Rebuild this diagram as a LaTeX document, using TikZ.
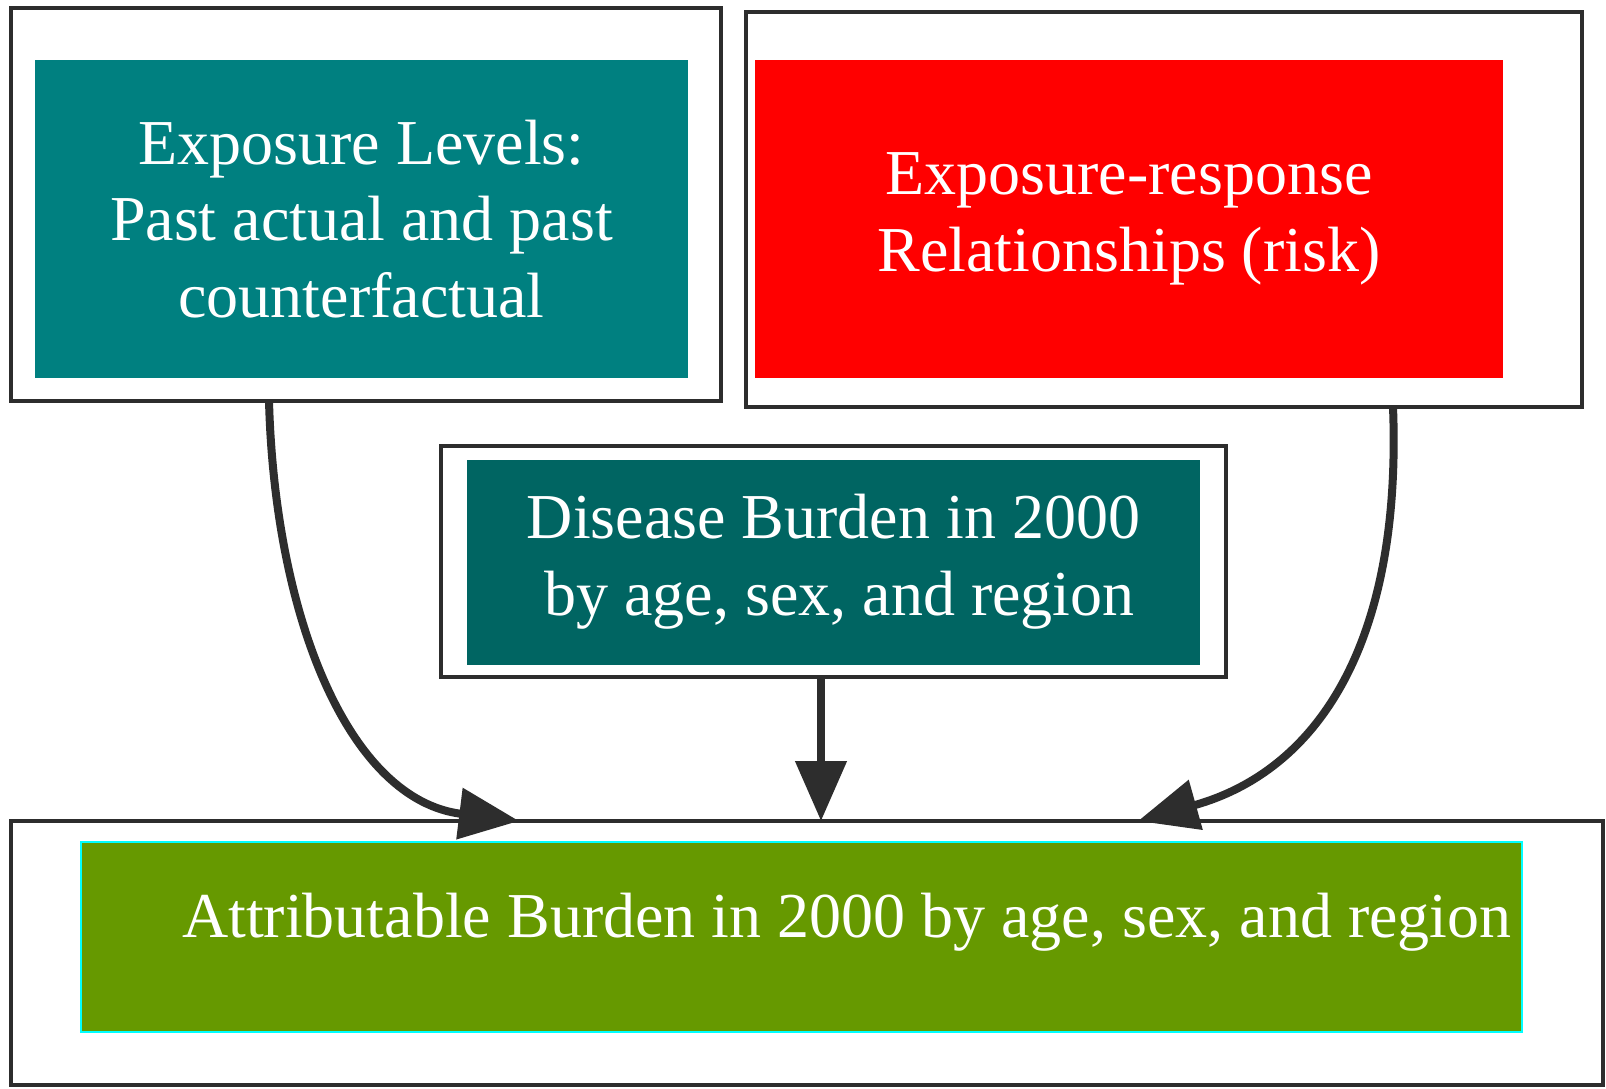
\documentclass[tikz,border=0pt]{standalone}
\usepackage{fontspec}
\setmainfont{Liberation Serif}
\usetikzlibrary{arrows.meta}
\definecolor{tealA}{RGB}{0,128,128}
\definecolor{tealB}{RGB}{0,101,98}
\definecolor{redA}{RGB}{255,0,0}
\definecolor{greenA}{RGB}{102,153,0}
\definecolor{lineC}{RGB}{45,45,45}
\definecolor{cyanA}{RGB}{0,255,255}
\begin{document}
\begin{tikzpicture}[x=0.5pt,y=-0.5pt,
  outerbox/.style={draw=lineC, line width=1.9pt, fill=white, inner sep=0pt, outer sep=0pt},
  colbox/.style={inner sep=0pt, outer sep=0pt, text=white, align=center,
                 font=\fontsize{32}{38.4}\selectfont},
  conn/.style={draw=lineC, line width=4pt, -{Triangle[length=30pt,width=25pt]}}]
\useasboundingbox[fill=white] (0,0) rectangle (1606,1088);
% outer frames
\node[outerbox, minimum width=355pt, minimum height=196.5pt] (o1) at (366,204.5) {};
\node[outerbox, minimum width=418pt, minimum height=197.5pt] (o2) at (1164,209.5) {};
\node[outerbox, minimum width=392.5pt, minimum height=115.5pt] (o3) at (833.5,561.5) {};
\node[outerbox, minimum width=796pt, minimum height=132pt] (o4) at (807,953) {};
% coloured boxes
\node[colbox, fill=tealA, minimum width=326.5pt, minimum height=159pt] (i1) at (361.5,219)
  {Exposure Levels:\\Past actual and past\\counterfactual};
\node[colbox, fill=redA, minimum width=374pt, minimum height=159pt] (i2) at (1129,219)
  {Exposure-response\\Relationships (risk)};
\node[colbox, fill=tealB, minimum width=366.5pt, minimum height=102.5pt] (i3) at (833.5,562)
  {Disease Burden in 2000\\\hspace*{6pt}by age, sex, and region};
\node[colbox, fill=greenA, draw=cyanA, line width=0.6pt, minimum width=720.5pt, minimum height=95pt] (i4) at (801.5,937) {};
\node[colbox, anchor=base west] (t4) at (182,937) {Attributable Burden in 2000 by age, sex, and region};
% connectors
\draw[conn] ([xshift=-48.5pt]o1.south) .. controls (275,620) and (350,800) .. ([xshift=-144pt]o4.north);
\draw[conn] ([xshift=114.5pt]o2.south) .. controls (1402,640) and (1320,770) .. ([xshift=165.5pt]o4.north);
\coordinate (m1) at ([xshift=-6.25pt]o3.south);
\draw[conn] (m1) -- (m1 |- o4.north);
\end{tikzpicture}
\end{document}
